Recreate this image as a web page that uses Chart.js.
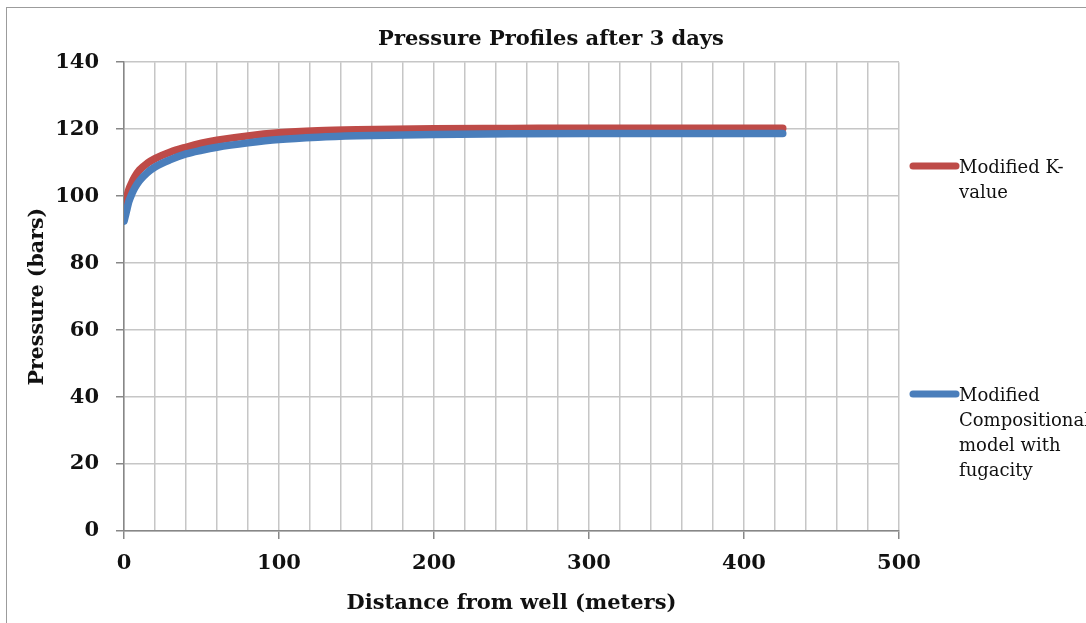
<!DOCTYPE html>
<html lang="en">
<head>
    <meta charset="UTF-8">
    <title>Pressure Profiles after 3 days</title>
    <script src="https://cdn.jsdelivr.net/npm/chart.js"></script>
    <style>
        body { margin: 0; background: #ffffff; }
        #wrap { width: 1086px; height: 623px; }
    </style>
</head>
<body>
    <div id="wrap">
        <canvas id="pressureChart" width="1086" height="623"></canvas>
    </div>
    <script>
        // distance from well (m) and pressure (bars) for each model
        const distance = [0, 1, 2, 3, 5, 7, 10, 15, 20, 30, 40, 50, 60, 80, 100, 125, 150, 200, 250, 300, 350, 400, 425];
        const kValuePressure = [96, 98, 100, 101.8, 104, 105.8, 107.8, 109.8, 111.2, 113.2, 114.6, 115.8, 116.7, 118, 118.9, 119.5, 119.8, 120.1, 120.2, 120.3, 120.3, 120.3, 120.3];
        const fugacityPressure = [92.5, 94.3, 96.3, 98.2, 100.6, 102.5, 104.6, 107, 108.7, 110.9, 112.6, 113.7, 114.6, 115.9, 116.9, 117.6, 118, 118.4, 118.6, 118.7, 118.7, 118.7, 118.7];
        const yTicks = { min: 0, max: 140, step: 20 };
        const xTicks = { min: 0, max: 500, step: 20, labelEvery: 100 };

        const seriesNames = [
            ['Modified K-', 'value'],
            ['Modified', 'Compositional', 'model with', 'fugacity']
        ];

        const RED = '#BE4B48';
        const BLUE = '#4A7EBB';
        const GRID = '#C6C6C6';
        const AXIS = '#878787';

        const boldSerif = (size) => ({ family: 'DejaVu Serif', size: size, weight: 'bold' });

        function toPoints(ys) {
            return distance.map((d, i) => ({ x: d, y: ys[i] }));
        }

        // thin frame around the whole chart
        const framePlugin = {
            id: 'frame',
            beforeDraw(chart) {
                const ctx = chart.ctx;
                ctx.save();
                ctx.strokeStyle = '#9C9C9C';
                ctx.lineWidth = 1;
                ctx.strokeRect(6.5, 7.5, chart.width + 20, chart.height + 20);
                ctx.restore();
            }
        };

        // legend on the right with wrapped labels
        const sideLegend = {
            id: 'sideLegend',
            afterDraw(chart) {
                const ctx = chart.ctx;
                const tops = [166, 394];
                const lineGap = 25;
                ctx.save();
                chart.data.datasets.forEach((ds, i) => {
                    const y = tops[i];
                    ctx.strokeStyle = ds.borderColor;
                    ctx.lineWidth = 7;
                    ctx.lineCap = 'round';
                    ctx.beginPath();
                    ctx.moveTo(913, y);
                    ctx.lineTo(956, y);
                    ctx.stroke();
                    ctx.fillStyle = '#111';
                    ctx.font = '18px "DejaVu Serif"';
                    ctx.textBaseline = 'middle';
                    ctx.textAlign = 'left';
                    seriesNames[i].forEach((txt, j) => {
                        ctx.fillText(txt, 959, y + 2 + j * lineGap);
                    });
                });
                ctx.restore();
            }
        };

        document.addEventListener('DOMContentLoaded', function () {
            const ctx = document.getElementById('pressureChart').getContext('2d');
            new Chart(ctx, {
                type: 'line',
                data: {
                    datasets: [{
                        label: seriesNames[0].join(''),
                        data: toPoints(kValuePressure),
                        borderColor: RED,
                        backgroundColor: RED,
                        order: 1
                    }, {
                        label: seriesNames[1].join(' '),
                        data: toPoints(fugacityPressure),
                        borderColor: BLUE,
                        backgroundColor: BLUE,
                        order: 0
                    }]
                },
                options: {
                    responsive: false,
                    animation: false,
                    layout: { padding: { left: 16, right: 0, top: 0, bottom: 0 } },
                    elements: {
                        point: { radius: 0 },
                        line: {
                            borderWidth: 7.5,
                            cubicInterpolationMode: 'monotone',
                            borderCapStyle: 'round',
                            borderJoinStyle: 'round'
                        }
                    },
                    plugins: {
                        legend: { display: false },
                        tooltip: { enabled: false },
                        title: {
                            display: true,
                            text: 'Pressure Profiles after 3 days',
                            color: '#111',
                            font: boldSerif(21),
                            padding: { top: 27, bottom: 10 }
                        }
                    },
                    scales: {
                        x: {
                            type: 'linear',
                            min: xTicks.min,
                            max: xTicks.max,
                            afterFit(scale) { scale.height = 92; },
                            ticks: {
                                stepSize: xTicks.step,
                                autoSkip: false,
                                maxRotation: 0,
                                color: '#111',
                                font: boldSerif(21),
                                padding: 12,
                                callback: (v) => (v % xTicks.labelEvery === 0 ? v : '')
                            },
                            grid: {
                                color: GRID,
                                lineWidth: 1.5,
                                tickLength: 8,
                                tickColor: (c) => (c.tick && c.tick.value % xTicks.labelEvery === 0 ? AXIS : 'rgba(0,0,0,0)')
                            },
                            border: { color: AXIS, width: 1.5 },
                            title: {
                                display: true,
                                text: 'Distance from well (meters)',
                                color: '#111',
                                font: boldSerif(21),
                                padding: { top: 0, bottom: 7 }
                            }
                        },
                        y: {
                            min: yTicks.min,
                            max: yTicks.max,
                            afterFit(scale) { scale.width = 108; },
                            ticks: {
                                stepSize: yTicks.step,
                                color: '#111',
                                font: boldSerif(21),
                                padding: 17
                            },
                            grid: {
                                color: GRID,
                                lineWidth: 1.5,
                                tickLength: 8,
                                tickColor: AXIS
                            },
                            border: { color: AXIS, width: 1.5 },
                            title: {
                                display: true,
                                text: 'Pressure (bars)',
                                color: '#111',
                                font: boldSerif(20.5),
                                padding: { top: 9, bottom: 0 }
                            }
                        },
                        legendSpace: {
                            position: 'right',
                            afterFit(scale) { scale.width = 187; },
                            ticks: { display: false },
                            grid: { display: false },
                            border: { display: false }
                        }
                    }
                },
                plugins: [framePlugin, sideLegend]
            });
        });
    </script>
</body>
</html>
